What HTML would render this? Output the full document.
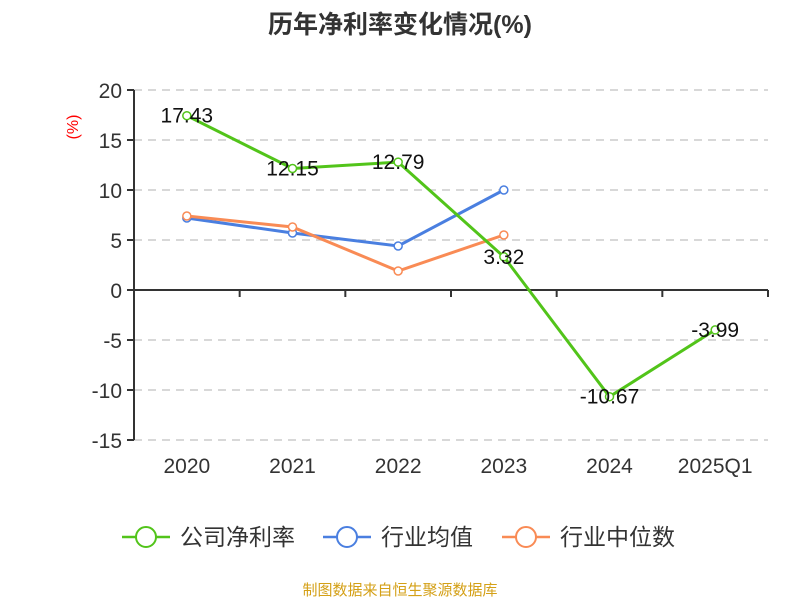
<!DOCTYPE html>
<html><head><meta charset="utf-8"><style>
body{margin:0;background:#fff;width:800px;height:600px;overflow:hidden;font-family:"Liberation Sans","Noto Sans CJK SC",sans-serif}
</style></head><body>
<svg width="800" height="600" font-family="Liberation Sans, Noto Sans CJK SC, sans-serif">
<text x="400" y="33" text-anchor="middle" font-size="25" font-weight="bold" fill="#333">历年净利率变化情况(%)</text>
<text x="78" y="127" fill="red" font-size="16" transform="rotate(-90 78 127)" text-anchor="middle">(%)</text>
<g id="grid"></g><g id="axes"></g><g id="series"></g>
<g font-size="23" fill="#333">
<g><line x1="122" y1="537" x2="170" y2="537" stroke="#52c41a" stroke-width="2.5"/><circle cx="146" cy="537" r="10" fill="#fff" stroke="#52c41a" stroke-width="2"/><text x="180" y="545">公司净利率</text></g>
<g><line x1="323" y1="537" x2="371" y2="537" stroke="#4a7fe0" stroke-width="2.5"/><circle cx="347" cy="537" r="10" fill="#fff" stroke="#4a7fe0" stroke-width="2"/><text x="381" y="545">行业均值</text></g>
<g><line x1="502" y1="537" x2="550" y2="537" stroke="#f98b55" stroke-width="2.5"/><circle cx="526" cy="537" r="10" fill="#fff" stroke="#f98b55" stroke-width="2"/><text x="560" y="545">行业中位数</text></g>
</g>
<text x="400" y="595" text-anchor="middle" font-size="15" fill="#d4a017">制图数据来自恒生聚源数据库</text>
</svg>
<script>
const categories=["2020","2021","2022","2023","2024","2025Q1"];
const company=[17.43,12.15,12.79,3.32,-10.67,-3.99];
const industryAvg=[7.2,5.7,4.4,10.0,null,null];
const industryMedian=[7.4,6.3,1.9,5.5,null,null];
const yTicks=[20,15,10,5,0,-5,-10,-15];
const NS="http://www.w3.org/2000/svg";
const L=134,R=768,yMax=20,yMin=-15,T=90,B=440;
const bw=(R-L)/categories.length;
const x=i=>L+bw*(i+0.5);
const y=v=>T+(yMax-v)/(yMax-yMin)*(B-T);
function mk(tag,attrs,parent){const e=document.createElementNS(NS,tag);for(const k in attrs)e.setAttribute(k,attrs[k]);document.getElementById(parent).appendChild(e);return e;}
yTicks.forEach(v=>{
 if(v!==0){const g=mk('line',{x1:L,x2:R,y1:y(v),y2:y(v),stroke:'#ccc','stroke-dasharray':'8,6','stroke-width':1.5},'grid');}
 const t=mk('line',{x1:L-7,x2:L,y1:y(v),y2:y(v),stroke:'#333','stroke-width':2},'axes');
 const tx=mk('text',{x:L-12,y:y(v)+8,'text-anchor':'end','font-size':21,fill:'#333'},'axes');tx.textContent=v;
});
let a=mk('line',{x1:L,x2:L,y1:T,y2:B,stroke:'#333','stroke-width':2},'axes');
a=mk('line',{x1:L,x2:R,y1:y(0),y2:y(0),stroke:'#333','stroke-width':2},'axes');
for(let i=0;i<=categories.length;i++){const t=mk('line',{x1:L+bw*i,x2:L+bw*i,y1:y(0),y2:y(0)+7,stroke:'#333','stroke-width':2},'axes');}
categories.forEach((c,i)=>{const t=mk('text',{x:x(i),y:473,'text-anchor':'middle','font-size':21,fill:'#333'},'axes');t.textContent=c;});
function series(vals,color,name,labels){
 const pts=vals.map((v,i)=>v==null?null:[x(i),y(v)]).filter(p=>p);
 const p=mk('polyline',{points:pts.map(p=>p.join(',')).join(' '),fill:'none',stroke:color,'stroke-width':3},'series');
 
 vals.forEach((v,i)=>{if(v==null)return;
  const c=mk('circle',{cx:x(i),cy:y(v),r:4,fill:'#fff',stroke:color,'stroke-width':1.5},'series');
  
  if(labels){const t=mk('text',{x:x(i),y:y(v)+7,'text-anchor':'middle','font-size':21,fill:'#111'},'series');t.textContent=v.toFixed(2);}
 });
}
series(industryAvg,'#4a7fe0','industry-avg',false);
series(industryMedian,'#f98b55','industry-median',false);
series(company,'#52c41a','company',true);
</script>
</body></html>
